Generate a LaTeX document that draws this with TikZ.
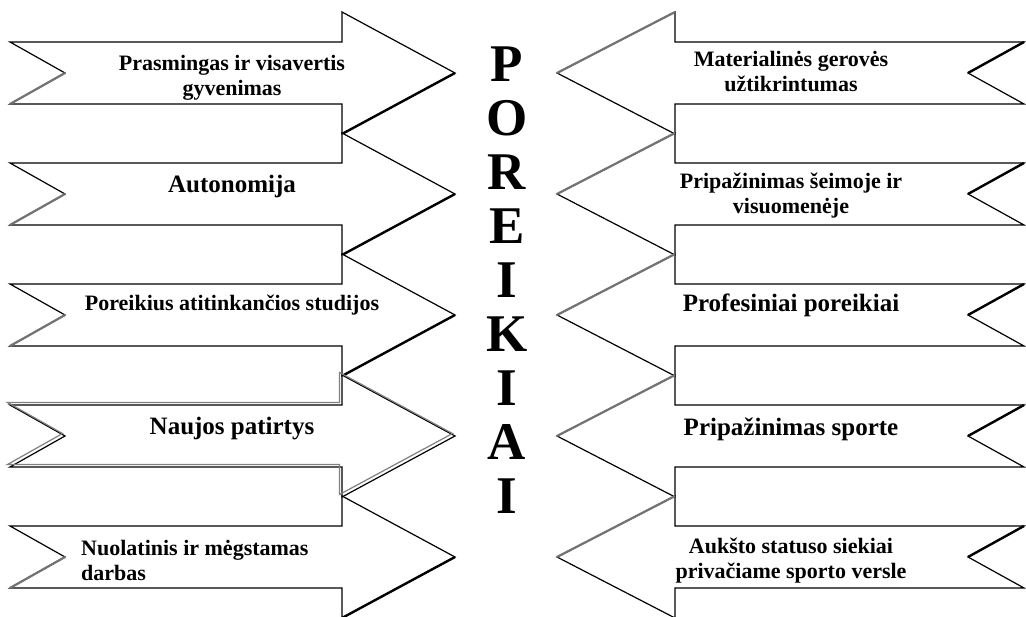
\documentclass[tikz,border=0pt]{standalone}
\usepackage{fontspec}
\setmainfont{Liberation Serif}

\begin{document}
\begin{tikzpicture}[x=1pt,y=-1pt, %unidade: 1 pixel, eixo y para baixo
  seta/.style={draw=black,fill=white,line width=1.2pt,line join=miter},
  grossa/.style={black,line width=2.4pt},
  sombra/.style={black!55,line width=2.2pt},
  rotulo/.style={font=\fontsize{22}{25}\selectfont\bfseries,align=center,inner sep=0pt},
  rotulogrande/.style={font=\fontsize{25}{27}\selectfont\bfseries,align=center,inner sep=0pt},
  letras/.style={font=\fontsize{53}{54}\selectfont\bfseries,align=center,inner sep=0pt}]

%Fundo branco e tamanho da figura
\fill[white] (0,0) rectangle (1026,617);
\useasboundingbox (0,0) rectangle (1026,617);

%Pontos de partida das setas (canto superior da cauda)
\coordinate (L1) at (10,42);
\coordinate (L2) at (10,163);
\coordinate (L3) at (10,284);
\coordinate (L4) at (10,405);
\coordinate (L5) at (10,526);
\coordinate (R1) at (1024,42);
\coordinate (R2) at (1024,163);
\coordinate (R3) at (1024,284);
\coordinate (R4) at (1024,405);
\coordinate (R5) at (1024,526);

%---------------------------------------------------
%Setas da esquerda (apontam para a direita)
%---------------------------------------------------
\draw[seta] (L1) -- ++(332,0) -- ++(0,-30) -- ++(113,61) -- ++(-113,61) -- ++(0,-30) -- ++(-332,0) -- ++(55,-31) -- cycle;
\draw[grossa] (L1) ++(332,92) -- ++(113,-61);
\draw[sombra] (L1) ++(0,62) -- ++(55,-31);

\draw[seta] (L2) -- ++(332,0) -- ++(0,-30) -- ++(113,61) -- ++(-113,61) -- ++(0,-30) -- ++(-332,0) -- ++(55,-31) -- cycle;
\draw[grossa] (L2) ++(332,92) -- ++(113,-61);
\draw[sombra] (L2) ++(0,62) -- ++(55,-31);

\draw[seta] (L3) -- ++(332,0) -- ++(0,-30) -- ++(113,61) -- ++(-113,61) -- ++(0,-30) -- ++(-332,0) -- ++(55,-31) -- cycle;
\draw[grossa] (L3) ++(332,92) -- ++(113,-61);
\draw[sombra] (L3) ++(0,62) -- ++(55,-31);

%seta com contorno duplo (cinza deslocado)
\draw[seta] (L4) -- ++(332,0) -- ++(0,-30) -- ++(113,61) -- ++(-113,61) -- ++(0,-30) -- ++(-332,0) -- ++(55,-31) -- cycle;
\draw[gray,line width=1.2pt] (L4) ++(-2.5,-2.5) -- ++(332,0) -- ++(0,-30) -- ++(113,61) -- ++(-113,61) -- ++(0,-30) -- ++(-332,0) -- ++(55,-31) -- cycle;

\draw[seta] (L5) -- ++(332,0) -- ++(0,-30) -- ++(113,61) -- ++(-113,61) -- ++(0,-30) -- ++(-332,0) -- ++(55,-31) -- cycle;
\draw[grossa] (L5) ++(332,92) -- ++(113,-61);
\draw[sombra] (L5) ++(0,62) -- ++(55,-31);

%---------------------------------------------------
%Setas da direita (apontam para a esquerda)
%---------------------------------------------------
\draw[seta] (R1) -- ++(-349,0) -- ++(0,-30) -- ++(-118,61) -- ++(118,61) -- ++(0,-30) -- ++(349,0) -- ++(-56,-31) -- cycle;
\draw[sombra] (R1) ++(-467,31) -- ++(118,-61);
\draw[grossa] (R1) ++(-56,31) -- ++(56,-31);

\draw[seta] (R2) -- ++(-349,0) -- ++(0,-30) -- ++(-118,61) -- ++(118,61) -- ++(0,-30) -- ++(349,0) -- ++(-56,-31) -- cycle;
\draw[sombra] (R2) ++(-467,31) -- ++(118,-61);
\draw[grossa] (R2) ++(-56,31) -- ++(56,-31);

\draw[seta] (R3) -- ++(-349,0) -- ++(0,-30) -- ++(-118,61) -- ++(118,61) -- ++(0,-30) -- ++(349,0) -- ++(-56,-31) -- cycle;
\draw[sombra] (R3) ++(-467,31) -- ++(118,-61);
\draw[grossa] (R3) ++(-56,31) -- ++(56,-31);

\draw[seta] (R4) -- ++(-349,0) -- ++(0,-30) -- ++(-118,61) -- ++(118,61) -- ++(0,-30) -- ++(349,0) -- ++(-56,-31) -- cycle;
\draw[sombra] (R4) ++(-467,31) -- ++(118,-61);
\draw[grossa] (R4) ++(-56,31) -- ++(56,-31);

\draw[seta] (R5) -- ++(-349,0) -- ++(0,-30) -- ++(-118,61) -- ++(118,61) -- ++(0,-30) -- ++(349,0) -- ++(-56,-31) -- cycle;
\draw[sombra] (R5) ++(-467,31) -- ++(118,-61);
\draw[grossa] (R5) ++(-56,31) -- ++(56,-31);

%---------------------------------------------------
%Textos das setas
%---------------------------------------------------
\node[rotulo] (prasmingas) at (232,78) {Prasmingas ir visavertis\\gyvenimas};
\node[rotulogrande] (autonomija) at (232,186) {Autonomija};
\node[rotulo] (studijos) at (232,305) {Poreikius atitinkančios studijos};
\node[rotulogrande] (patirtys) at (232,429) {Naujos patirtys};
\node[rotulo,align=left,anchor=west] (darbas) at (81,560) {Nuolatinis ir mėgstamas\\darbas};

\node[rotulo] (gerove) at (791,72) {Materialinės gerovės\\užtikrintumas};
\node[rotulo] (seimoje) at (791,196) {Pripažinimas šeimoje ir\\visuomenėje};
\node[rotulogrande] (profesiniai) at (791,305) {Profesiniai poreikiai};
\node[rotulogrande] (sporte) at (791,429) {Pripažinimas sporte};
\node[rotulo] (statuso) at (791,561) {Aukšto statuso siekiai\\privačiame sporto versle};

%Palavra central na vertical
\node[letras] (poreikiai) at (507,280) {P\\O\\R\\E\\I\\K\\I\\A\\I};

\end{tikzpicture}
\end{document}
